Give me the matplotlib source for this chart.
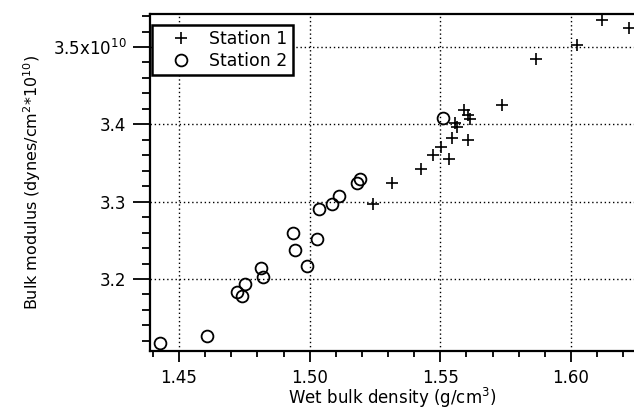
import numpy as np
import matplotlib
matplotlib.use('Agg')
import matplotlib.pyplot as plt
from matplotlib.ticker import MultipleLocator, FixedLocator, FixedFormatter

# Station 1 (plus markers)
st1_density = [1.6117, 1.6220, 1.6021, 1.5866, 1.5735, 1.5591, 1.5607, 1.5613,
               1.5556, 1.5562, 1.5543, 1.5607, 1.5501, 1.5471, 1.5533, 1.5425,
               1.5315, 1.5241]
st1_modulus = [3.535, 3.524, 3.503, 3.484, 3.425, 3.419, 3.412, 3.407,
               3.402, 3.396, 3.382, 3.380, 3.371, 3.361, 3.355, 3.342,
               3.324, 3.297]

# Station 2 (circles)
st2_density = [1.5511, 1.5180, 1.5193, 1.5112, 1.5084, 1.5037, 1.4935, 1.5029,
               1.4944, 1.4989, 1.4814, 1.4820, 1.4752, 1.4723, 1.4740, 1.4606,
               1.4427]
st2_modulus = [3.408, 3.3245, 3.329, 3.3076, 3.297, 3.2904, 3.2598, 3.2512,
               3.2374, 3.2167, 3.2145, 3.2021, 3.1934, 3.1834, 3.1783, 3.1265,
               3.1167]

xticks = [1.45, 1.50, 1.55, 1.60]
xtick_labels = ['1.45', '1.50', '1.55', '1.60']
yticks = [3.2, 3.3, 3.4, 3.5]
ytick_labels = ['3.2', '3.3', '3.4', '3.5x10$^{10}$']

plt.rcParams['font.family'] = ['DejaVu Sans']

fig = plt.figure(figsize=(6.34, 4.09), dpi=100)
ax = fig.add_axes([150 / 634, 1 - 351 / 409, 1 - 150 / 634, (351 - 14) / 409])

ax.plot(st1_density, st1_modulus, linestyle='none', marker='+', markersize=8,
        markeredgewidth=1.2, color='black', label='Station 1', clip_on=False)
ax.plot(st2_density, st2_modulus, linestyle='none', marker='o', markersize=8.5,
        markeredgewidth=1.3, markerfacecolor='none', color='black',
        label='Station 2', clip_on=False)

ax.set_xlim(1.4389, 1.6241)
ax.set_ylim(3.1069, 3.5427)

ax.xaxis.set_major_locator(FixedLocator(xticks))
ax.xaxis.set_major_formatter(FixedFormatter(xtick_labels))
ax.xaxis.set_minor_locator(MultipleLocator(0.01))
ax.yaxis.set_major_locator(FixedLocator(yticks))
ax.yaxis.set_major_formatter(FixedFormatter(ytick_labels))
ax.yaxis.set_minor_locator(MultipleLocator(0.02))

ax.grid(True, which='major', color='black', linestyle=(0, (1, 2)), linewidth=1.0)

ax.spines['right'].set_visible(False)
for s in ['left', 'bottom', 'top']:
    ax.spines[s].set_linewidth(1.6)

ax.tick_params(axis='x', which='major', direction='out', length=8, width=1.3,
               labelsize=12, pad=5)
ax.tick_params(axis='x', which='minor', direction='out', length=4, width=1.3)
ax.tick_params(axis='y', which='major', direction='out', length=12, width=1.3,
               labelsize=12, pad=5)
ax.tick_params(axis='y', which='minor', direction='out', length=6, width=1.3)

ax.set_xlabel('Wet bulk density (g/cm$^3$)', fontsize=12, labelpad=-0.5)
ax.set_ylabel('Bulk modulus (dynes/cm$^2$*10$^{10}$)', fontsize=11.5, labelpad=7)

leg = ax.legend(loc='upper left', bbox_to_anchor=(0.004, 0.967), fontsize=12.5,
                frameon=True, fancybox=False, borderpad=0.3, handletextpad=0.2,
                labelspacing=0.2, borderaxespad=0, handlelength=2.8)
leg.get_frame().set_edgecolor('black')
leg.get_frame().set_linewidth(1.8)
leg.get_frame().set_alpha(1)

fig.savefig('out.png', dpi=100)
